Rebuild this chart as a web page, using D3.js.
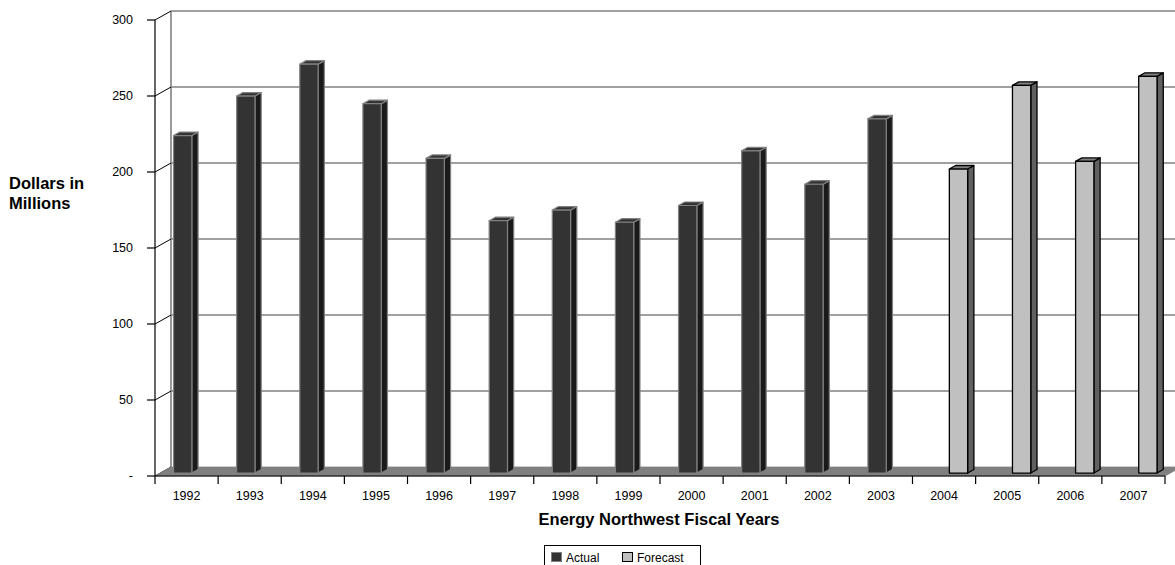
<!DOCTYPE html>
<html>
<head>
<meta charset="utf-8">
<script src="https://cdn.jsdelivr.net/npm/d3@7/dist/d3.min.js"></script>
<style>
  html, body { margin: 0; padding: 0; background: #fff; }
  svg { display: block; font-family: "Liberation Sans", Arial, sans-serif; }
</style>
</head>
<body>
<svg id="chart" width="1175" height="565"></svg>
<script>
// Fiscal years shown along the floor of the 3-D column chart
const years = ["1992","1993","1994","1995","1996","1997","1998","1999",
               "2000","2001","2002","2003","2004","2005","2006","2007"];
// Dollars in millions; null where a series has no value for that year
const actual   = [222, 248, 269, 243, 207, 166, 173, 165, 176, 212, 190, 233, null, null, null, null];
const forecast = [null, null, null, null, null, null, null, null, null, null, null, null, 200, 255, 205, 261];
const seriesNames = ["Actual", "Forecast"];
const yTicks = [0, 50, 100, 150, 200, 250, 300];
const yTickLabels = ["-", "50", "100", "150", "200", "250", "300"];

const svg = d3.select("#chart");

// Front plane scales
const x = d3.scaleBand().domain(years).range([155, 1165]).padding(0);
const xs = d3.scaleBand().domain(seriesNames).range([0, x.bandwidth()])
  .paddingInner(0).paddingOuter(0.725);
const y = d3.scaleLinear().domain([0, 300]).range([476, 20]);

// Depth of the floor (offset of the back wall relative to the front plane)
const DX = 16, DY = -9;
const proj = (px, v, z) => [px + DX * z, y(v) + DY * z];

// Back wall gridlines
const grid = svg.append("g");
yTicks.filter(v => v > 0).forEach(v => {
  const a = proj(155, v, 1), b = proj(1175 + 20, v, 1);
  grid.append("line").attr("x1", a[0]).attr("y1", a[1]).attr("x2", b[0]).attr("y2", b[1])
    .attr("stroke", "#808080").attr("stroke-width", 1.6);
});
// Back wall left edge
{
  const a = proj(155, 0, 1), b = proj(155, 300, 1);
  grid.append("line").attr("x1", a[0]).attr("y1", a[1]).attr("x2", b[0]).attr("y2", b[1])
    .attr("stroke", "#808080").attr("stroke-width", 1.6);
}
// Side wall connectors from the value axis to the back wall
yTicks.forEach(v => {
  const a = proj(155, v, 0), b = proj(155, v, 1);
  grid.append("line").attr("x1", a[0]).attr("y1", a[1]).attr("x2", b[0]).attr("y2", b[1])
    .attr("stroke", "#000").attr("stroke-width", 1);
});

// Floor
const floorPts = [proj(155, 0, 0), proj(1165, 0, 0), proj(1165, 0, 1), proj(155, 0, 1)];
svg.append("polygon").attr("points", floorPts.map(p => p.join(",")).join(" "))
  .attr("fill", "#808080").attr("stroke", "#808080").attr("stroke-width", 0.8);

// Value axis
const axY = svg.append("g");
axY.append("line").attr("x1", 155).attr("x2", 155).attr("y1", y(300)).attr("y2", y(0))
  .attr("stroke", "#000").attr("stroke-width", 1.2);
yTicks.forEach((v, i) => {
  axY.append("line").attr("x1", 147).attr("x2", 155).attr("y1", y(v)).attr("y2", y(v))
    .attr("stroke", "#000").attr("stroke-width", 1.2);
  axY.append("text").attr("x", 133).attr("y", y(v)).attr("dy", "0.35em")
    .attr("text-anchor", "end").attr("font-size", 12.5).text(yTickLabels[i]);
});

// Category axis
const axX = svg.append("g");
axX.append("line").attr("x1", 155).attr("x2", 1165).attr("y1", y(0)).attr("y2", y(0))
  .attr("stroke", "#000").attr("stroke-width", 1.2);
years.concat(["end"]).forEach((yr, i) => {
  const px = i < years.length ? x(yr) : x.range()[1];
  axX.append("line").attr("x1", px).attr("x2", px).attr("y1", y(0)).attr("y2", y(0) + 8)
    .attr("stroke", "#000").attr("stroke-width", 1.2);
});
years.forEach(yr => {
  axX.append("text").attr("x", x(yr) + x.bandwidth() / 2).attr("y", 500)
    .attr("text-anchor", "middle").attr("font-size", 12.5).text(yr);
});

// 3-D columns
const styles = {
  Actual:   { front: "#333333", side: "#1a1a1a", top: "#333333", stroke: "#808080", sw: 1.2 },
  Forecast: { front: "#c0c0c0", side: "#606060", top: "#808080", stroke: "#000000", sw: 1.3 }
};
const zFront = 0.33, zBack = 0.72;
const bars = [];
years.forEach((yr, i) => {
  [["Actual", actual[i]], ["Forecast", forecast[i]]].forEach(([s, v]) => {
    if (v != null) bars.push({ yr, s, v });
  });
});
const poly = pts => pts.map(p => p.join(",")).join(" ");
const gBars = svg.append("g");
bars.forEach(d => {
  const st = styles[d.s];
  const xl = x(d.yr) + xs(d.s), xr = xl + xs.bandwidth();
  const g = gBars.append("g").attr("stroke", st.stroke).attr("stroke-width", st.sw)
    .attr("stroke-linejoin", "round");
  // right side face
  g.append("polygon").attr("fill", st.side).attr("points", poly([
    proj(xr, 0, zFront), proj(xr, 0, zBack), proj(xr, d.v, zBack), proj(xr, d.v, zFront)]));
  // top face
  g.append("polygon").attr("fill", st.top).attr("points", poly([
    proj(xl, d.v, zFront), proj(xr, d.v, zFront), proj(xr, d.v, zBack), proj(xl, d.v, zBack)]));
  // front face
  g.append("polygon").attr("fill", st.front).attr("points", poly([
    proj(xl, 0, zFront), proj(xr, 0, zFront), proj(xr, d.v, zFront), proj(xl, d.v, zFront)]));
});

// Axis titles
svg.append("text").attr("x", 659).attr("y", 525).attr("text-anchor", "middle")
  .attr("font-weight", "bold").attr("font-size", 16.5).text("Energy Northwest Fiscal Years");
const yTitle = svg.append("text").attr("x", 9).attr("font-weight", "bold").attr("font-size", 16.5);
yTitle.append("tspan").attr("x", 9).attr("y", 189).text("Dollars in");
yTitle.append("tspan").attr("x", 9).attr("y", 209).text("Millions");

// Legend
const lg = svg.append("g");
lg.append("rect").attr("x", 544.5).attr("y", 545.5).attr("width", 156).attr("height", 30)
  .attr("fill", "#fff").attr("stroke", "#000").attr("stroke-width", 1);
const lgItems = [{ s: "Actual", sx: 551, tx: 566 }, { s: "Forecast", sx: 622, tx: 637 }];
lgItems.forEach(it => {
  const st = styles[it.s];
  lg.append("rect").attr("x", it.sx + 0.5).attr("y", 552.5).attr("width", 10).attr("height", 9)
    .attr("fill", st.front).attr("stroke", st.stroke).attr("stroke-width", 1);
  lg.append("text").attr("x", it.tx).attr("y", 562).attr("font-size", 12).text(it.s);
});
</script>
</body>
</html>
